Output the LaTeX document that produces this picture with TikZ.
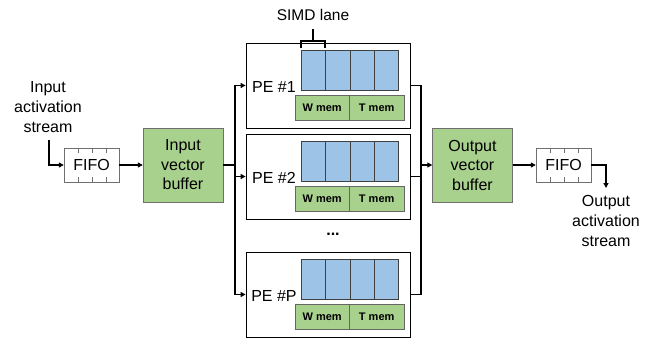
\documentclass[tikz,border=0pt]{standalone}
\usepackage{fontspec}
\setmainfont{Liberation Sans}
\usetikzlibrary{arrows.meta,calc}
\definecolor{gfill}{HTML}{A9D18E}
\definecolor{bfill}{HTML}{9DC3E6}
\definecolor{gline}{HTML}{6F6F6F}
\begin{document}
\begin{tikzpicture}[x=1pt,y=-1pt,
  conn/.style={line width=1.4pt},
  arr/.style={line width=1.4pt,-{Triangle[length=5pt,width=5pt]}},
  buf/.style={draw=gline,fill=gfill,minimum width=80pt,minimum height=74pt,inner sep=0pt,align=center,font=\fontsize{16}{19.5}\selectfont},
  fifo/.style={draw=gline,minimum width=55pt,minimum height=34pt,inner sep=0pt,font=\fontsize{16}{19}\selectfont},
  tick/.style={draw=gline,line width=0.6pt},
  pebox/.style={draw,line width=0.8pt,minimum width=164pt,minimum height=85pt,inner sep=0pt},
  lane/.style={draw=black!75,fill=bfill,minimum width=24.25pt,minimum height=40pt,inner sep=0pt,anchor=north west},
  mem/.style={draw=black!60,fill=gfill,minimum height=25pt,inner sep=0pt,anchor=north west,font=\bfseries\fontsize{11}{13}\selectfont},
  lbl/.style={align=center,font=\fontsize{16}{20}\selectfont},
  pelbl/.style={anchor=base,inner sep=0pt,font=\fontsize{16}{19}\selectfont}]
\useasboundingbox (0,0) rectangle (655,341);

% PEs
\foreach \n/\T in {1/43,2/134,P/252}{
  \node[pebox] (pe\n) at (328,\T+42.5) {};
  \node[pelbl] (pe\n l) at (274,\T+49.5) {PE \#\n};
  \foreach \i in {0,...,3}
    \node[lane] (pe\n c\i) at (301+\i*24.25,\T+7) {};
  \node[mem,minimum width=54pt] (pe\n w) at (295,\T+52) {W mem};
  \node[mem,minimum width=55pt] (pe\n t) at (349,\T+52) {T mem};
}
\node[lbl,inner sep=0pt,font=\bfseries\fontsize{16}{20}\selectfont] (dots) at (333,234) {...};

% SIMD lane
\node[font=\fontsize{15.5}{18}\selectfont] (simd) at (313,15) {SIMD lane};
\coordinate (brl) at (301,48);
\coordinate (brr) at (325,48);
\coordinate (brc) at (313,41);
\coordinate (brt) at (313,29);
\draw[line width=1.1pt] (brl) -- (301,41) -- (325,41) -- (brr);
\draw[line width=1.1pt] (brc) -- (brt);

% buffers
\node[buf] (ivb) at (183,165) {Input\\vector\\buffer};
\node[buf] (ovb) at (472.5,165) {Output\\vector\\buffer};

% FIFOs
\node[fifo] (fifo1) at (91.5,165) {FIFO};
\node[fifo] (fifo2) at (563.5,165) {FIFO};
\foreach \f in {fifo1,fifo2}{
  \foreach \p in {0.27,0.52,0.76}{
    \draw[tick] ($(\f.north west)!\p!(\f.north east)$) -- ++(0,5);
    \draw[tick] ($(\f.south west)!\p!(\f.south east)$) -- ++(0,-5);
  }
}

% labels
\node[lbl] (inlbl) at (48,107) {Input\\activation\\stream};
\node[lbl] (outlbl) at (606,221) {Output\\activation\\stream};

% connectors
\coordinate (inl) at (49,140);
\draw[arr] (inl) |- (fifo1.west);
\draw[arr] (fifo1.east) -- (ivb.west);

\coordinate (l1) at (235,85.5);
\coordinate (l2) at (235,176.5);
\coordinate (lP) at (235,294.5);
\draw[arr] (ivb.east) -| (l1) -- (pe1.west);
\draw[arr] (ivb.east) -| (lP) -- (peP.west);
\draw[arr] (l2) -- (pe2.west);

\coordinate (rin) at (421,165);
\coordinate (r2) at (421,176.5);
\draw[conn] (pe1.east) -| (rin);
\draw[conn] (peP.east) -| (rin);
\draw[conn] (pe2.east) -- (r2);
\draw[arr] (rin) -- (ovb.west);

\draw[arr] (ovb.east) -- (fifo2.west);
\coordinate (outc) at (606,188);
\draw[arr] (fifo2.east) -| (outc);
\end{tikzpicture}
\end{document}
